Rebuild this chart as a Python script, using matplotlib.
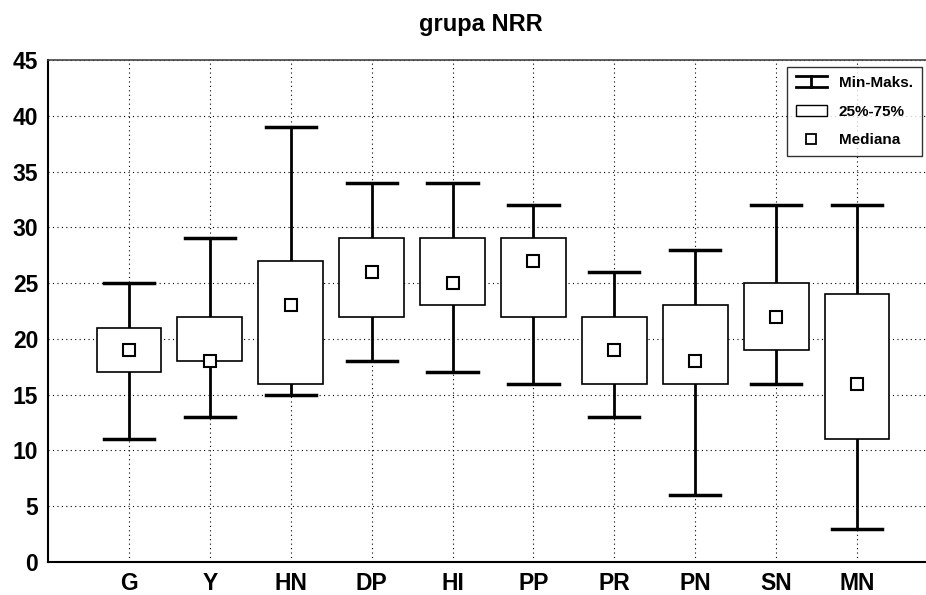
import matplotlib
matplotlib.use("Agg")
import matplotlib.pyplot as plt
from matplotlib.lines import Line2D
from matplotlib.patches import Rectangle
from matplotlib.legend_handler import HandlerBase

plt.rcParams['font.family'] = ['Liberation Sans', 'DejaVu Sans']
plt.rcParams['font.weight'] = 'bold'

groups = ["G", "Y", "HN", "DP", "HI", "PP", "PR", "PN", "SN", "MN"]
mins = [11, 13, 15, 18, 17, 16, 13, 6, 16, 3]
q1s = [17, 18, 16, 22, 23, 22, 16, 16, 19, 11]
medians = [19, 18, 23, 26, 25, 27, 19, 18, 22, 16]
q3s = [21, 22, 27, 29, 29, 29, 22, 23, 25, 24]
maxs = [25, 29, 39, 34, 34, 32, 26, 28, 32, 32]


class IBeamHandler(HandlerBase):
    # legend symbol for the min-max whisker: two bars and a stem
    def create_artists(self, legend, orig_handle, xdescent, ydescent,
                       width, height, fontsize, trans):
        cx = width / 2 - xdescent
        top = height * 1.0 - ydescent
        bot = height * 0.0 - ydescent
        l1 = Line2D([-xdescent, width - xdescent], [top, top], color='black', lw=2, transform=trans)
        l2 = Line2D([-xdescent, width - xdescent], [bot, bot], color='black', lw=2, transform=trans)
        l3 = Line2D([cx, cx], [bot, top], color='black', lw=2, transform=trans)
        return [l1, l2, l3]


fig = plt.figure(figsize=(9.26, 5.95), dpi=100)
ax = fig.add_axes([48/926, 1 - 562/595, 890/926, 502/595])

box_w = 0.8
cap_w = 0.62
for i in range(len(groups)):
    x = i + 1
    ax.plot([x, x], [mins[i], maxs[i]], color='black', lw=2, zorder=2)
    ax.plot([x - cap_w/2, x + cap_w/2], [mins[i], mins[i]], color='black', lw=2.5, zorder=2)
    ax.plot([x - cap_w/2, x + cap_w/2], [maxs[i], maxs[i]], color='black', lw=2.5, zorder=2)
    ax.add_patch(Rectangle((x - box_w/2, q1s[i]), box_w, q3s[i] - q1s[i],
                           facecolor='white', edgecolor='black', lw=1.2, zorder=3))
    ax.plot(x, medians[i], marker='s', markersize=8, markerfacecolor='white',
            markeredgecolor='black', markeredgewidth=1.5, zorder=4)

ax.set_xlim(0, 11)
ax.set_ylim(0, 45)
ax.set_xticks(range(1, len(groups) + 1))
ax.set_xticklabels(groups)
ax.set_yticks(range(0, 46, 5))
ax.tick_params(length=0, labelsize=16.5, pad=7)
for lab in ax.get_xticklabels() + ax.get_yticklabels():
    lab.set_fontweight('bold')
ax.grid(True, color='black', linestyle=(0, (1, 3)), lw=0.8)
ax.set_axisbelow(True)
for s in ['left', 'bottom']:
    ax.spines[s].set_linewidth(1.5)
ax.spines['top'].set_linewidth(1.2)
ax.spines['top'].set_color('#444444')

fig.text(481/926, 1 - 25/595, "grupa NRR", ha='center', va='center',
         fontsize=17, fontweight='bold')

whisker_h = object()
handles = [
    whisker_h,
    Rectangle((0, 0), 1, 1, facecolor='white', edgecolor='black', lw=1),
    Line2D([0], [0], color='none', marker='s', markersize=7, markerfacecolor='white',
           markeredgecolor='black', markeredgewidth=1.3),
]
leg = ax.legend(handles, ["Min-Maks.", "25%-75%", "Mediana"], loc='upper left',
                bbox_to_anchor=((787 - 48) / 890, (562 - 67) / 502), borderaxespad=0,
                frameon=True, fancybox=False, edgecolor='black', fontsize=11,
                handlelength=2.0, handleheight=0.7, handletextpad=0.8,
                labelspacing=0.95, borderpad=0.6,
                handler_map={whisker_h: IBeamHandler()})
leg.get_frame().set_linewidth(1.0)
for t in leg.get_texts():
    t.set_fontweight('bold')

fig.savefig("out.png", dpi=100)
